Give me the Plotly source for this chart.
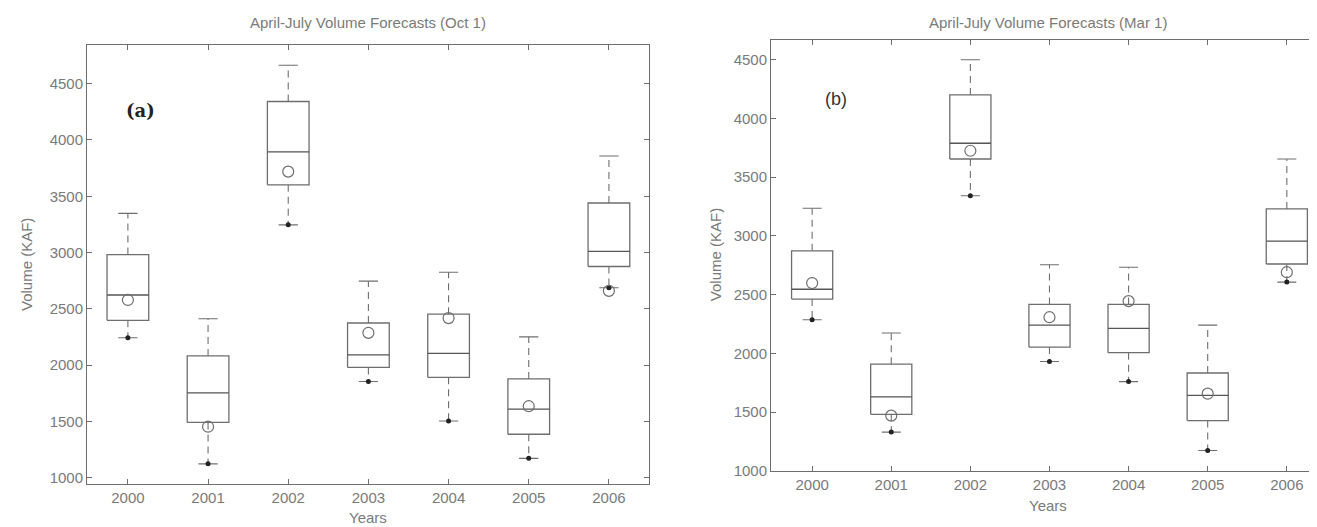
import plotly.graph_objects as go

years = [2000, 2001, 2002, 2003, 2004, 2005, 2006]
year_labels = ["2000", "2001", "2002", "2003", "2004", "2005", "2006"]
y_ticks = [1000, 1500, 2000, 2500, 3000, 3500, 4000, 4500]

# Panel (a): Oct 1 forecasts
a_upper = [3348, 2412, 4664, 2746, 2825, 2251, 3858]
a_q3 = [2982, 2082, 4342, 2374, 2453, 1877, 3440]
a_median = [2623, 1754, 3895, 2091, 2105, 1610, 3011]
a_q1 = [2398, 1491, 3602, 1980, 1892, 1386, 2876]
a_lower = [2243, 1123, 3246, 1854, 1503, 1172, 2687]
a_observed = [2579, 1453, 3719, 2287, 2418, 1635, 2660]

# Panel (b): Mar 1 forecasts
b_upper = [3236, 2174, 4500, 2755, 2733, 2241, 3655]
b_q3 = [2873, 1908, 4200, 2417, 2417, 1833, 3230]
b_median = [2546, 1629, 3789, 2241, 2213, 1643, 2956]
b_q1 = [2462, 1481, 3655, 2054, 2006, 1428, 2761]
b_lower = [2286, 1330, 3342, 1931, 1760, 1173, 2607]
b_observed = [2599, 1470, 3725, 2308, 2445, 1657, 2691]

LINE = "#6e6e6e"
TEXT = "#7a7a7a"
FONT = "Liberation Sans"
BOXW = 0.52
CAPW = 0.24

fig = go.Figure()


def add_panel(xa, ya, upper, q3, med, q1, lower, obs):
    bx, by, mx, my, wx, wy, cx, cy = [], [], [], [], [], [], [], []
    for x, u, t, m, b, lo in zip(years, upper, q3, med, q1, lower):
        h = BOXW / 2
        bx += [x - h, x + h, x + h, x - h, x - h, None]
        by += [b, b, t, t, b, None]
        mx += [x - h, x + h, None]
        my += [m, m, None]
        wx += [x, x, None, x, x, None]
        wy += [t, u, None, b, lo, None]
        c = CAPW / 2
        cx += [x - c, x + c, None, x - c, x + c, None]
        cy += [u, u, None, lo, lo, None]
    common = dict(xaxis=xa, yaxis=ya, showlegend=False, hoverinfo="skip")
    fig.add_trace(go.Scatter(x=wx, y=wy, mode="lines",
                             line=dict(color=LINE, width=1.1, dash="7px,5px"), **common))
    fig.add_trace(go.Scatter(x=cx, y=cy, mode="lines",
                             line=dict(color=LINE, width=1.1), **common))
    fig.add_trace(go.Scatter(x=bx, y=by, mode="lines",
                             line=dict(color=LINE, width=1.3), **common))
    fig.add_trace(go.Scatter(x=mx, y=my, mode="lines",
                             line=dict(color="#555555", width=1.3), **common))
    fig.add_trace(go.Scatter(x=years, y=lower, mode="markers",
                             marker=dict(symbol="circle", size=5, color="#222222"), **common))
    fig.add_trace(go.Scatter(x=years, y=obs, mode="markers",
                             marker=dict(symbol="circle-open", size=11, color=LINE,
                                         line=dict(color=LINE, width=1.2)), **common))


add_panel("x", "y", a_upper, a_q3, a_median, a_q1, a_lower, a_observed)
add_panel("x2", "y2", b_upper, b_q3, b_median, b_q1, b_lower, b_observed)

W, H = 1317, 527

axis_common = dict(showgrid=False, zeroline=False, showline=True, linecolor=LINE,
                   linewidth=1, mirror="ticks", ticks="inside", ticklen=5,
                   tickcolor=LINE, tickwidth=1,
                   tickfont=dict(family=FONT, size=15, color=TEXT))

fig.update_layout(
    width=W, height=H,
    margin=dict(l=0, r=0, t=0, b=0),
    paper_bgcolor="white", plot_bgcolor="white",
    xaxis=dict(domain=[79 / W, 641 / W], range=[1999.49, 2006.5],
               tickvals=years, ticktext=year_labels, anchor="y", **axis_common),
    yaxis=dict(domain=[1 - 483 / H, 1 - 38 / H], range=[947, 4840],
               tickvals=y_ticks, anchor="x", **axis_common),
    xaxis2=dict(domain=[763 / W, 1316 / W], range=[1999.48, 2006.47],
                tickvals=years, ticktext=year_labels, anchor="y2", **axis_common),
    yaxis2=dict(domain=[1 - 470 / H, 1 - 32 / H], range=[1000, 4672],
                tickvals=y_ticks, anchor="x2", **axis_common),
)

tfont = dict(family=FONT, size=15, color=TEXT)
ann = [
    dict(text="April-July Volume Forecasts (Oct 1)", x=360 / W, y=1 - 15 / H),
    dict(text="April-July Volume Forecasts (Mar 1)", x=1040 / W, y=1 - 15 / H),
    dict(text="Years", x=360 / W, y=1 - 517 / H),
    dict(text="Years", x=1040 / W, y=1 - 505 / H),
    dict(text="Volume (KAF)", x=18 / W, y=1 - 261 / H, textangle=-90),
    dict(text="Volume (KAF)", x=707 / W, y=1 - 251 / H, textangle=-90),
]
for a in ann:
    fig.add_annotation(xref="paper", yref="paper", xanchor="center", yanchor="middle",
                       showarrow=False, font=tfont, **a)

fig.add_annotation(xref="x", yref="y", x=2000.16, y=4258, text="(a)",
                   showarrow=False,
                   font=dict(family="DejaVu Serif", size=18, color="#222222", weight="bold"))
fig.add_annotation(xref="x2", yref="y2", x=2000.3, y=4165, text="(b)",
                   showarrow=False, font=dict(family=FONT, size=18, color="#333333"))

fig.write_html("out.html")
